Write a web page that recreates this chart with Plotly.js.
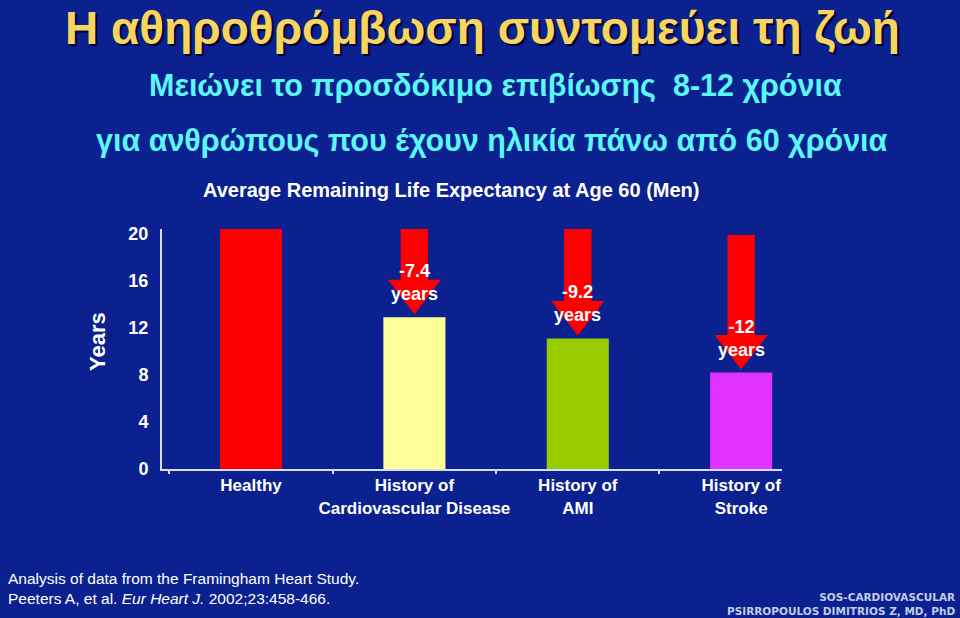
<!DOCTYPE html>
<html>
<head>
<meta charset="utf-8">
<script src="https://cdn.plot.ly/plotly-3.0.1.min.js"></script>
<style>
  body { margin: 0; background: #0b2190; }
  #chart { width: 960px; height: 618px; }
</style>
</head>
<body>
<div id="chart"></div>
<script>
var categories = ["Healthy", "History of<br>Cardiovascular Disease", "History of<br>AMI", "History of<br>Stroke"];
var years = [20.4, 12.9, 11.1, 8.2];
var barColors = ["#ff0000", "#ffff99", "#99cc00", "#e033ff"];
var lossYears = [null, 7.4, 9.2, 12];
var lossLabels = ["", "-7.4<br>years", "-9.2<br>years", "-12<br>years"];
var arrowStart = [null, 20.4, 20.4, 19.9];

var yMax = 20.4;
var plotH = 240;
var pxPerUnit = plotH / yMax;
var headSize = 46;
var gapPx = 3;

// arrow pieces, derived from the data (only where there is a loss)
var arrowCats = [], headCenter = [], headTop = [], shaftBase = [], shaftLen = [], arrowText = [];
for (var i = 0; i < categories.length; i++) {
  if (lossYears[i] === null) continue;
  var tipY = years[i] + gapPx / pxPerUnit;
  var headTopY = tipY + (headSize * 0.75) / pxPerUnit;
  arrowCats.push(categories[i]);
  headCenter.push(tipY + (headSize / 2) / pxPerUnit);
  headTop.push(headTopY);
  shaftBase.push(headTopY - 0.3);
  shaftLen.push(arrowStart[i] - headTopY + 0.3);
  arrowText.push(lossLabels[i]);
}

var bars = {
  x: categories,
  y: years,
  type: "bar",
  width: 0.38,
  marker: { color: barColors },
  hoverinfo: "skip"
};

var shafts = {
  x: arrowCats,
  y: shaftLen,
  base: shaftBase,
  type: "bar",
  width: 0.168,
  marker: { color: "#ff0000" },
  hoverinfo: "skip"
};

var heads = {
  x: arrowCats,
  y: headCenter,
  type: "scatter",
  mode: "markers",
  marker: { symbol: "triangle-down", size: headSize, color: "#ff0000", line: { width: 0 } },
  hoverinfo: "skip"
};

var textFont = "Liberation Sans, Arial, sans-serif";

var labelAnn = [];
for (var j = 0; j < arrowCats.length; j++) {
  labelAnn.push({
    x: arrowCats[j],
    y: headTop[j] - 3 / pxPerUnit,
    xref: "x", yref: "y",
    text: arrowText[j],
    showarrow: false,
    xanchor: "center", yanchor: "middle",
    font: { family: textFont, size: 18, color: "#ffffff", weight: "bold" }
  });
}

function px2x(px) { return (px - 162) / 620; }
function py2y(py) { return (469 - py) / 240; }

function note(text, px, py, font, extra) {
  var a = {
    xref: "paper", yref: "paper", x: px2x(px), y: py2y(py),
    text: text, showarrow: false, xanchor: "center", yanchor: "middle",
    font: font
  };
  for (var k in extra) a[k] = extra[k];
  return a;
}

var annotations = labelAnn.concat([
  note("Η αθηροθρόμβωση συντομεύει τη ζωή", 482, 28,
    { family: textFont, size: 46, color: "#f7d55e", weight: "bold", shadow: "2px 2px 1px #000033" },
    { borderpad: 0 }),
  note("Μειώνει το προσδόκιμο επιβίωσης  8-12 χρόνια", 495, 86,
    { family: textFont, size: 30.5, color: "#5cf6f6", weight: "bold" }),
  note("για ανθρώπους που έχουν ηλικία πάνω από 60 χρόνια", 492, 140,
    { family: textFont, size: 30.5, color: "#5cf6f6", weight: "bold" }),
  note("Average Remaining Life Expectancy at Age 60 (Men)", 451, 190,
    { family: textFont, size: 20, color: "#ffffff", weight: "bold" }),
  note("Years", 97, 342,
    { family: textFont, size: 22, color: "#ffffff", weight: "bold" }, { textangle: -90 }),
  note("Analysis of data from the Framingham Heart Study.<br>Peeters A, et al. <i>Eur Heart J.</i> 2002;23:458-466.", 6, 588,
    { family: textFont, size: 15.5, color: "#ffffff" }, { xanchor: "left", align: "left" }),
  note("SOS-CARDIOVASCULAR<br>PSIRROPOULOS DIMITRIOS Z, MD, PhD", 957, 604,
    { family: "DejaVu Sans, Verdana, sans-serif", size: 10.5, color: "#c3cbe6", weight: "bold" },
    { xanchor: "right", align: "right" })
]);

var layout = {
  width: 960,
  height: 618,
  margin: { l: 162, r: 178, t: 229, b: 149 },
  paper_bgcolor: "#0b2190",
  plot_bgcolor: "#0b2190",
  showlegend: false,
  barmode: "overlay",
  xaxis: {
    type: "category",
    range: [-0.545, 3.25],
    showline: true, linecolor: "#d8dcf0", linewidth: 2,
    showgrid: false, zeroline: false,
    ticks: "outside", tickson: "boundaries", ticklen: 3, tickcolor: "#d8dcf0", tickwidth: 2,
    tickangle: 0,
    tickfont: { family: textFont, size: 17, color: "#ffffff", weight: "bold" },
    fixedrange: true
  },
  yaxis: {
    range: [0, yMax],
    tickvals: [0, 4, 8, 12, 16, 20],
    showline: true, linecolor: "#d8dcf0", linewidth: 2,
    showgrid: false, zeroline: false,
    ticks: "", ticklabelstandoff: 8,
    tickfont: { family: textFont, size: 18, color: "#ffffff", weight: "bold" },
    fixedrange: true
  },
  annotations: annotations
};

Plotly.newPlot("chart", [bars, shafts, heads], layout, { displayModeBar: false, staticPlot: true });
</script>
</body>
</html>
